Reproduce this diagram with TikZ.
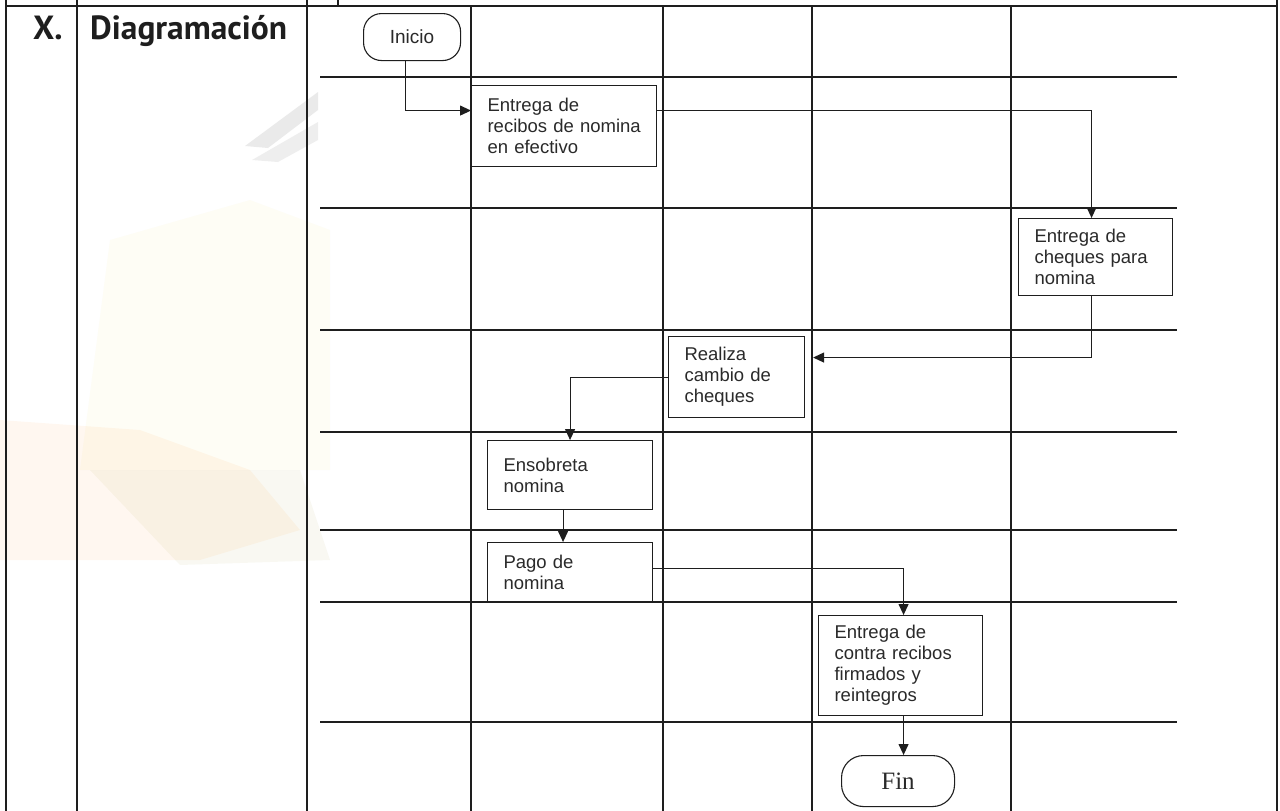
\documentclass[tikz,border=0pt]{standalone}
\usepackage{fontspec}
\setmainfont{Liberation Sans}
\newfontfamily\headfont{PT Sans}
\newfontfamily\finfont{Liberation Serif}
\usetikzlibrary{arrows.meta}

\definecolor{ink}{HTML}{1E1E1E}
\definecolor{txt}{HTML}{2A2A2A}

\tikzset{
  tableline/.style={draw=ink, line width=1.7pt},
  laneline/.style={draw=ink, line width=1.3pt},
  stepbox/.style={draw=ink, line width=1.1pt, fill=white, rectangle,
    inner xsep=16pt, inner ysep=0pt, align=left, text=txt,
    font=\fontsize{18.5}{21}\selectfont, anchor=north west},
  terminal/.style={draw=ink, line width=1.1pt, fill=white, rectangle,
    anchor=north west, text=txt},
  flow/.style={draw=ink, line width=1.1pt,
    -{Triangle[length=11pt,width=10pt]}},
  headtext/.style={font=\headfont\bfseries\fontsize{33.5}{36}\selectfont,
    text=ink, anchor=base west, inner sep=0pt},
}

\begin{document}
\begin{tikzpicture}[x=1pt, y=-1pt]
\useasboundingbox (0,0) rectangle (1280,811);
\fill[white] (0,0) rectangle (1280,811);

% faint watermark behind the table
\fill[yellow!70!orange, opacity=0.04] (110,240) -- (250,200) -- (330,230)
  -- (330,470) -- (80,470) -- cycle;
\fill[orange, opacity=0.06] (0,420) -- (140,430) -- (250,470) -- (300,530)
  -- (200,560) -- (0,560) -- cycle;
\fill[olive, opacity=0.05] (90,470) -- (300,470) -- (330,560) -- (180,565) -- cycle;
\fill[gray, opacity=0.16] (245,146) -- (318,92) -- (318,110) -- (268,148) -- cycle;
\fill[gray, opacity=0.13] (252,160) -- (318,122) -- (318,140) -- (278,162) -- cycle;

% table frame
\draw[tableline] (6,6) -- (1277,6);
\draw[tableline] (6,0) -- (6,811);
\draw[tableline] (77,0) -- (77,811);
\draw[tableline] (307,0) -- (307,811);
\draw[tableline] (1277,0) -- (1277,811);
\draw[tableline] (338,0) -- (338,6);

% swimlane grid
\foreach \x in {471,663,812,1011} \draw[laneline] (\x,6) -- (\x,811);
\foreach \y in {77,208,330,432,530,602,722} \draw[laneline] (320,\y) -- (1177,\y);

% section heading
\node[headtext] (num) at (33,39) {X.};
\node[headtext] (title) at (90,39) {Diagramación};

% process steps
\node[terminal, rounded corners=18pt, minimum width=97pt, minimum height=47pt,
  font=\fontsize{19}{21}\selectfont] (inicio) at (363,13) {Inicio};
\node[stepbox, text width=153pt, minimum height=81pt] (b1) at (471,85)
  {Entrega de\\\mbox{recibos de nomina}\\en efectivo};
\node[stepbox, text width=122pt, minimum height=77pt] (b2) at (1018,218)
  {Entrega de\\\mbox{cheques para}\\nomina};
\node[stepbox, text width=104pt, minimum height=81pt] (b3) at (668,336)
  {Realiza\\\mbox{cambio de}\\cheques};
\node[stepbox, text width=133pt, minimum height=69pt] (b4) at (487,440)
  {Ensobreta\\nomina\\[4pt]};
\node[stepbox, text width=133pt, minimum height=59pt] (b5) at (487,542)
  {Pago de\\nomina};
\node[stepbox, text width=132pt, minimum height=100pt] (b6) at (818,615)
  {Entrega de\\\mbox{contra recibos}\\firmados y\\reintegros};
\node[terminal, rounded corners=22pt, minimum width=113pt, minimum height=51pt,
  font=\finfont\fontsize{25}{27}\selectfont] (fin) at (841,755) {Fin};

% connectors
\draw[flow] ([xshift=-7pt]inicio.south) |- ([yshift=15.5pt]b1.west);
\draw[flow] ([yshift=15.5pt]b1.east) -| ([xshift=-4pt]b2.north);
\draw[flow, shorten >=8pt] ([xshift=-4pt]b2.south) |- ([yshift=19.5pt]b3.east);
\draw[flow] (b3.west) -| (b4.north);
\draw[flow] ([xshift=-7pt]b4.south) -- ([xshift=-7pt]b5.north);
\draw[flow] ([yshift=3.5pt]b5.east) -| ([xshift=3pt]b6.north);
\draw[flow] ([xshift=3pt]b6.south) -- ([xshift=3pt]b6.south |- fin.north);
\end{tikzpicture}
\end{document}
